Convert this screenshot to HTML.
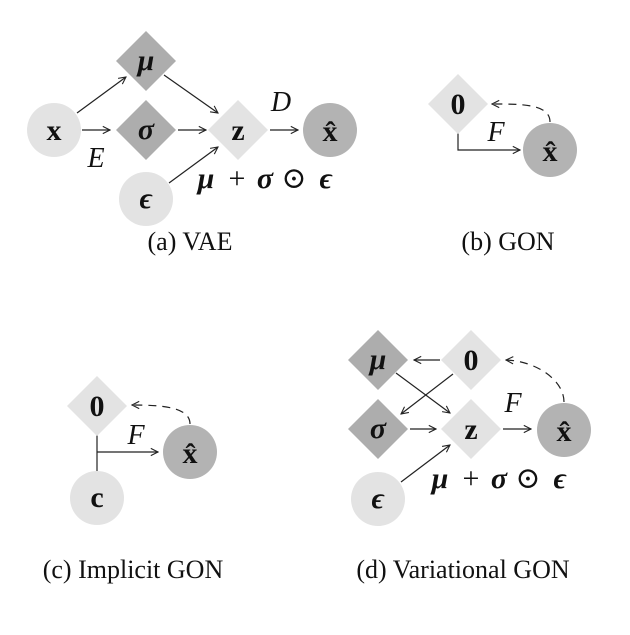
<!DOCTYPE html>
<html><head><meta charset="utf-8"><style>
html,body{margin:0;padding:0;background:#fff;}
svg text{font-family:"Liberation Serif","DejaVu Serif",serif;fill:#111;}
.b{font-weight:bold;font-size:30px;}
.bi{font-weight:bold;font-style:italic;font-size:30px;}
.i{font-style:italic;font-size:28px;}
.op{font-size:30px;}
.cap{font-size:26px;}
</style></head><body>
<svg width="630" height="630" viewBox="0 0 630 630" xmlns="http://www.w3.org/2000/svg">
<defs>
<marker id="ar" viewBox="0 0 10 10" refX="9" refY="5" markerWidth="9" markerHeight="9" orient="auto" markerUnits="userSpaceOnUse">
<path d="M1,1 L9,5 L1,9" fill="none" stroke="#222" stroke-width="1.2"/>
</marker>
</defs>
<g stroke="#222" stroke-width="1.2" fill="none">
<line x1="77" y1="113" x2="126" y2="77" marker-end="url(#ar)"/>
<line x1="82" y1="130" x2="110" y2="130" marker-end="url(#ar)"/>
<line x1="164" y1="75" x2="218" y2="113" marker-end="url(#ar)"/>
<line x1="178" y1="130" x2="206" y2="130" marker-end="url(#ar)"/>
<line x1="169" y1="183" x2="218" y2="147" marker-end="url(#ar)"/>
<line x1="270" y1="130" x2="298" y2="130" marker-end="url(#ar)"/>
<polyline points="458,132 458,150 520,150" marker-end="url(#ar)"/>
<path d="M550,122 C550,104 522,104 492,104" stroke-dasharray="8,6" marker-end="url(#ar)"/>
<line x1="97" y1="434" x2="97" y2="471"/>
<line x1="97" y1="452" x2="158" y2="452" marker-end="url(#ar)"/>
<path d="M190,424 C190,407 162,405 132,405" stroke-dasharray="8,6" marker-end="url(#ar)"/>
<line x1="440" y1="360" x2="414" y2="360" marker-end="url(#ar)"/>
<line x1="396" y1="373" x2="450" y2="413" marker-end="url(#ar)"/>
<line x1="453" y1="374" x2="401" y2="414" marker-end="url(#ar)"/>
<line x1="410" y1="429" x2="436" y2="429" marker-end="url(#ar)"/>
<line x1="401" y1="482" x2="450" y2="445" marker-end="url(#ar)"/>
<line x1="503" y1="429" x2="531" y2="429" marker-end="url(#ar)"/>
<path d="M564,402 C564,380 536,361 506,360" stroke-dasharray="8,6" marker-end="url(#ar)"/>
</g>
<g stroke="none">
<circle cx="54" cy="130" r="27" fill="#e3e3e3"/>
<polygon points="146,31 176,61 146,91 116,61" fill="#adadad"/>
<polygon points="146,100 176,130 146,160 116,130" fill="#adadad"/>
<polygon points="238,100 268,130 238,160 208,130" fill="#e3e3e3"/>
<circle cx="330" cy="130" r="27" fill="#b3b3b3"/>
<circle cx="146" cy="199" r="27" fill="#e3e3e3"/>
<polygon points="458,74 488,104 458,134 428,104" fill="#e3e3e3"/>
<circle cx="550" cy="150" r="27" fill="#b3b3b3"/>
<polygon points="97,376 127,406 97,436 67,406" fill="#e3e3e3"/>
<circle cx="190" cy="452" r="27" fill="#b3b3b3"/>
<circle cx="97" cy="498" r="27" fill="#e3e3e3"/>
<polygon points="378,330 408,360 378,390 348,360" fill="#adadad"/>
<polygon points="471,330 501,360 471,390 441,360" fill="#e3e3e3"/>
<polygon points="378,399 408,429 378,459 348,429" fill="#adadad"/>
<polygon points="471,399 501,429 471,459 441,429" fill="#e3e3e3"/>
<circle cx="564" cy="430" r="27" fill="#b3b3b3"/>
<circle cx="378" cy="499" r="27" fill="#e3e3e3"/>
</g>
<g text-anchor="middle">
<text class="b" x="54" y="140">x</text>
<text class="bi" x="146" y="70">μ</text>
<text class="bi" x="146" y="139">σ</text>
<text class="b" x="238" y="140">z</text>
<text class="b" x="330" y="141">x̂</text>
<text class="bi" x="146" y="208">ϵ</text>
<text class="i" x="96" y="167">E</text>
<text class="i" x="281" y="111">D</text>
<text class="bi" x="206" y="188">μ</text>
<text class="op" x="237" y="188">+</text>
<text class="bi" x="265" y="188">σ</text>
<text class="op" x="294" y="188">⊙</text>
<text class="bi" x="326" y="188">ϵ</text>
<text class="b" x="458" y="114">0</text>
<text class="b" x="550" y="161">x̂</text>
<text class="i" x="496" y="141">F</text>
<text class="b" x="97" y="416">0</text>
<text class="b" x="190" y="463">x̂</text>
<text class="b" x="97" y="507">c</text>
<text class="i" x="136" y="444">F</text>
<text class="bi" x="378" y="369">μ</text>
<text class="b" x="471" y="370">0</text>
<text class="bi" x="378" y="438">σ</text>
<text class="b" x="471" y="439">z</text>
<text class="b" x="564" y="441">x̂</text>
<text class="bi" x="378" y="508">ϵ</text>
<text class="i" x="513" y="412">F</text>
<text class="bi" x="440" y="488">μ</text>
<text class="op" x="471" y="488">+</text>
<text class="bi" x="499" y="488">σ</text>
<text class="op" x="528" y="488">⊙</text>
<text class="bi" x="560" y="488">ϵ</text>
<text class="cap" x="190" y="250">(a) VAE</text>
<text class="cap" x="508" y="250">(b) GON</text>
<text class="cap" x="133" y="578">(c) Implicit GON</text>
<text class="cap" x="463" y="578">(d) Variational GON</text>
</g>
</svg>
</body></html>
